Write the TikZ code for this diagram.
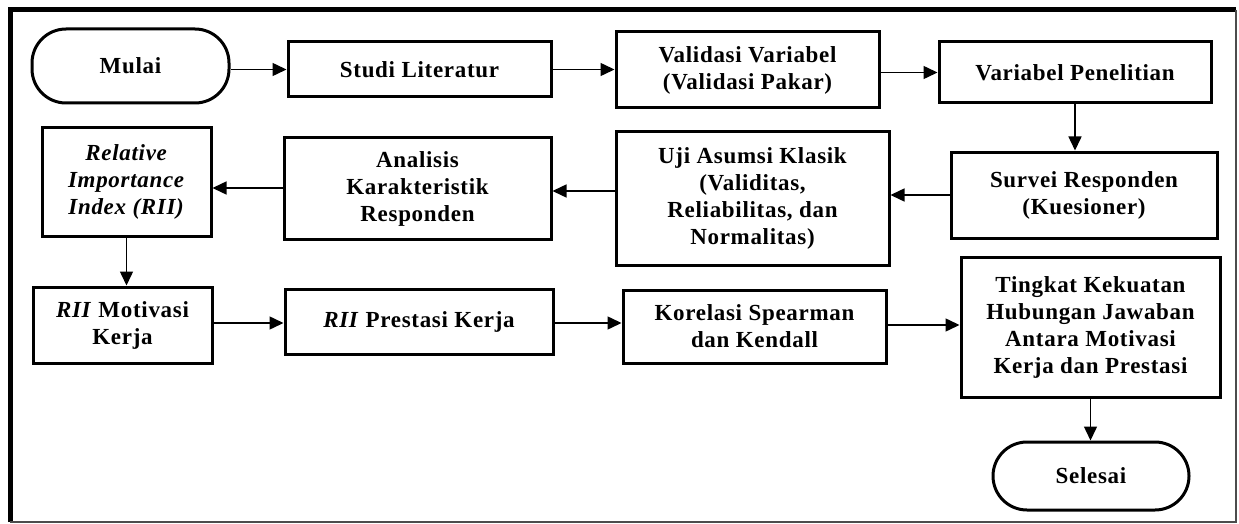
\documentclass[tikz,border=0pt]{standalone}
\usepackage{fontspec}
\setmainfont{Liberation Serif}[LetterSpace=3.0]
\usepackage{tikz}
\usetikzlibrary{calc}
\usetikzlibrary{arrows.meta}

\begin{document}
\begin{tikzpicture}[x=1pt,y=-1pt,
		kotak/.style={draw,line width=3pt,inner sep=0pt,align=center,
			font=\fontsize{23}{27}\selectfont\bfseries},
		terminal/.style={kotak,rounded corners=34pt},
		panah/.style={line width=1.5pt,-{Triangle[length=14pt,width=13pt]}}]
			\useasboundingbox (0,0) rectangle (1239,524);
			%bingkai
			\draw[line width=5pt] (10,522) -- (10,10) -- (1236,10);
			\draw[line width=1.5pt,gray!60!black] (1236,10) -- (1236,522) -- (10,522);
			%baris pertama
			\node[terminal,minimum width=197pt,minimum height=74pt] (mulai) at (130.5,66) {Mulai};
			\node[kotak,minimum width=263pt,minimum height=55pt] (studi) at (419.5,69.5) {Studi Literatur};
			\node[kotak,minimum width=263pt,minimum height=76pt] (validasi) at (747.5,70) {Validasi Variabel\\(Validasi Pakar)};
			\node[kotak,minimum width=272pt,minimum height=61pt] (variabel) at (1075,72.5) {Variabel Penelitian};
			%baris kedua
			\node[kotak,minimum width=169pt,minimum height=108pt] (rii) at (126.5,182) {\textit{Relative}\\\textit{Importance}\\\textit{Index (RII)}};
			\node[kotak,minimum width=267pt,minimum height=101pt] (analisis) at (417.5,188.5) {Analisis\\Karakteristik\\Responden};
			\node[kotak,minimum width=273pt,minimum height=133pt] (uji) at (752.5,198.5) {Uji Asumsi Klasik\\(Validitas,\\Reliabilitas, dan\\Normalitas)};
			\node[kotak,minimum width=266pt,minimum height=86pt] (survei) at (1084,195) {Survei Responden\\(Kuesioner)};
			%baris ketiga
			\node[kotak,minimum width=179pt,minimum height=76pt] (riimot) at (122.5,325) {\textit{RII} Motivasi\\Kerja};
			\node[kotak,minimum width=268pt,minimum height=65pt] (riipres) at (419,321.5) {\textit{RII} Prestasi Kerja};
			\node[kotak,minimum width=263pt,minimum height=73pt] (korelasi) at (754.5,326.5) {Korelasi Spearman\\dan Kendall};
			\node[kotak,minimum width=259pt,minimum height=140pt] (tingkat) at (1090.5,327) {Tingkat Kekuatan\\Hubungan Jawaban\\Antara Motivasi\\Kerja dan Prestasi};
			\node[terminal,minimum width=196pt,minimum height=68pt] (selesai) at (1091,476) {Selesai};
			%panah
			\draw[panah] (mulai.east |- studi.west) -- (studi.west);
			\draw[panah] (studi.east) -- (studi.east -| validasi.west);
			\draw[panah] (validasi.east |- variabel.west) -- (variabel.west);
			\draw[panah] (variabel.south) -- (variabel.south |- survei.north);
			\draw[panah] (survei.west) -- (survei.west -| uji.east);
			\draw[panah] (uji.west |- 0,191) -- (analisis.east |- 0,191);
			\draw[panah] (analisis.west |- 0,188) -- (rii.east |- 0,188);
			\draw[panah] (rii.south) -- (rii.south |- riimot.north);
			\draw[panah] (riimot.east |- 0,323) -- (riipres.west |- 0,323);
			\draw[panah] (riipres.east |- 0,323) -- (korelasi.west |- 0,323);
			\draw[panah] (korelasi.east |- 0,325) -- (tingkat.west |- 0,325);
			\draw[panah] (tingkat.south) -- (tingkat.south |- selesai.north);
		\end{tikzpicture}
\end{document}
